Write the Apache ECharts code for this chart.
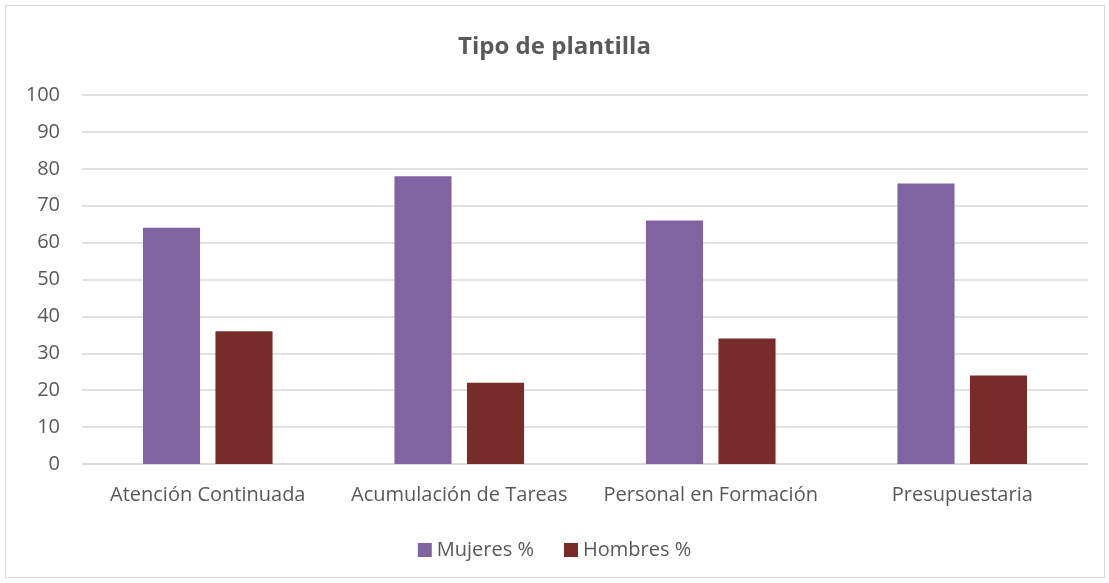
<!DOCTYPE html>
<html><head><meta charset="utf-8">
<script src="https://cdn.jsdelivr.net/npm/echarts@6/dist/echarts.min.js"></script>
<style>html,body{margin:0;padding:0;background:#fff}#c{width:1109px;height:583px}
#frame{position:absolute;left:5px;top:5px;width:1098px;height:571px;border:1px solid #d9d9d9;pointer-events:none}</style>
</head><body><div id="c"></div><div id="frame"></div>
<script>
const categories = ['Atención Continuada','Acumulación de Tareas','Personal en Formación','Presupuestaria'];
const mujeres = [64, 78, 66, 76];
const hombres = [36, 22, 34, 24];
const seriesNames = ['Mujeres %','Hombres %'];
const chart = echarts.init(document.getElementById('c'));
const font = '"Open Sans", sans-serif';
chart.setOption({
  animation:false,
  title:{text:'Tipo de plantilla',left:'center',top:30,textStyle:{fontFamily:font,fontSize:24,fontWeight:'bold',color:'#595959'}},
  legend:{bottom:18,left:'center',itemWidth:14,itemHeight:14,itemGap:30,icon:'rect',textStyle:{fontFamily:font,fontSize:20,color:'#595959'},data:seriesNames},
  grid:{left:82,right:21,top:95,bottom:119},
  xAxis:{type:'category',data:categories,axisTick:{show:false},axisLine:{lineStyle:{color:'#d9d9d9',width:1.5}},
    axisLabel:{interval:0,fontFamily:font,fontSize:20,color:'#595959',margin:21}},
  yAxis:{type:'value',min:0,max:100,interval:10,axisLine:{show:false},axisTick:{show:false},
    splitLine:{lineStyle:{color:'#d9d9d9',width:1.5}},axisLabel:{fontFamily:font,fontSize:20,color:'#595959',margin:22}},
  series:[
    {name:seriesNames[0],type:'bar',data:mujeres,barWidth:'22.7%',barGap:'27%',itemStyle:{color:'#8064a2'}},
    {name:seriesNames[1],type:'bar',data:hombres,barWidth:'22.7%',itemStyle:{color:'#772c2a'}}
  ]
});
</script></body></html>
